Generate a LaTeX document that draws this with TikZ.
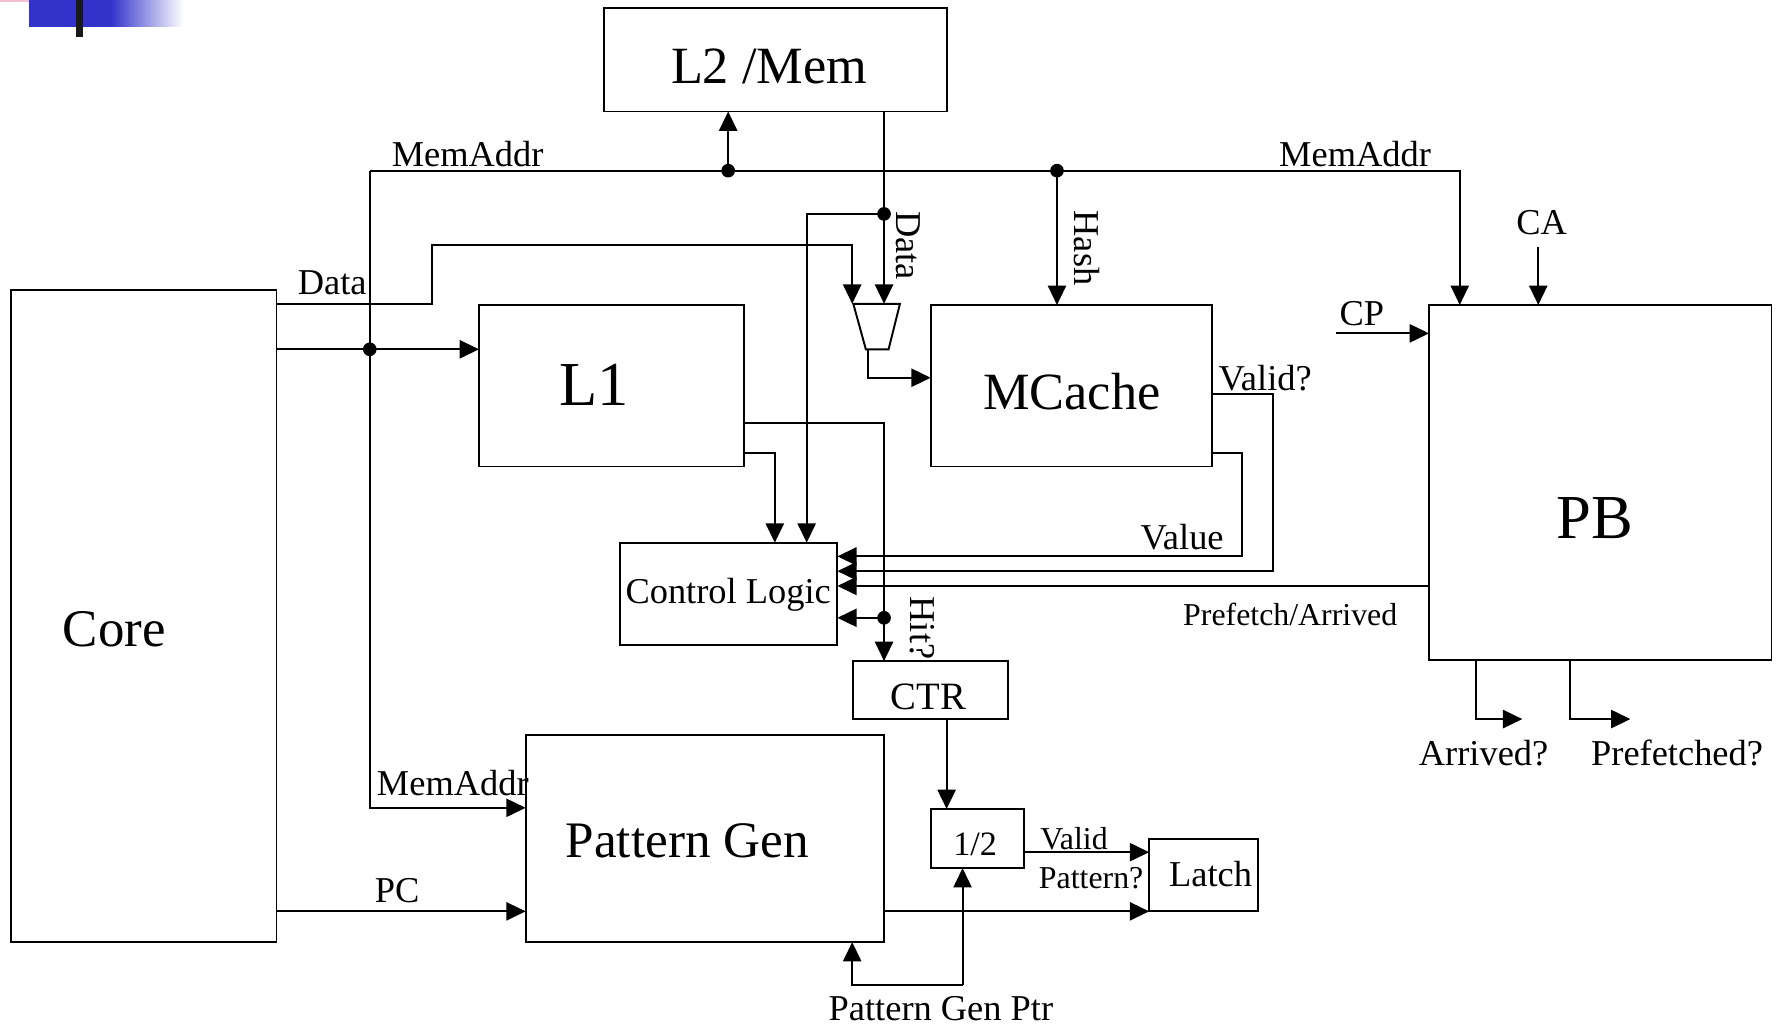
\documentclass[tikz,border=0pt]{standalone}
\usepackage{fontspec}
\setmainfont{Liberation Serif}
\usetikzlibrary{arrows.meta}
\newcommand\fsz[1]{\fontsize{#1}{#1}\selectfont}
\definecolor{logoblue}{RGB}{51,51,204}
\definecolor{logopink}{RGB}{244,190,210}
\begin{document}
\begin{tikzpicture}[x=1pt,y=-1pt,
  box/.style={draw,line width=1.7pt,inner sep=0pt,outer sep=0pt,rectangle},
  wire/.style={line width=1.7pt},
  arr/.style={wire,-{Triangle[length=17pt,width=16pt]}},
  lbl/.style={inner sep=0pt,anchor=base,font=\fsz{32}},
  sml/.style={inner sep=0pt,anchor=base,font=\fsz{28}},
  big/.style={inner sep=0pt,anchor=base,font=\fsz{46}},
  dot/.style={circle,fill,inner sep=0pt,minimum size=12pt}]
\useasboundingbox (0,0) rectangle (1568,903);
% logo
\fill[logopink] (0,0) rectangle (53,1.5);
\fill[logoblue] (25.5,0) rectangle (97.5,23.7);
\shade[left color=logoblue,right color=white] (97,0) rectangle (161,23.7);
\fill[black!90] (66.8,0) rectangle (73,32.5);
% boxes
\node[box,minimum width=301pt,minimum height=91pt] (L2) at (681.5,52.5) {};
\node[box,minimum width=233pt,minimum height=573pt] (Core) at (126.5,541.5) {};
\node[box,minimum width=233pt,minimum height=142pt] (L1) at (537.5,339) {};
\node[box,minimum width=247pt,minimum height=142pt] (MC) at (941.5,339) {};
\node[box,minimum width=301pt,minimum height=312pt] (PB) at (1406.5,424) {};
\node[box,minimum width=191pt,minimum height=90pt] (CL) at (640.5,522) {};
\node[box,minimum width=136pt,minimum height=51pt] (CTR) at (818,606.5) {};
\node[box,minimum width=315pt,minimum height=182pt] (PG) at (619.5,737) {};
\node[box,minimum width=82pt,minimum height=52pt] (HF) at (859,737) {};
\node[box,minimum width=96pt,minimum height=64pt] (LT) at (1058,769) {};
% box texts
\node[big] (tL2) at (676,73) {L2 /Mem};
\node[big,font=\fsz{46.5}] (tCore) at (100.5,568) {Core};
\node[big,font=\fsz{55}] (tL1) at (522,356) {L1};
\node[big] (tMC) at (942,360) {MCache};
\node[big,font=\fsz{55}] (tPB) at (1402,473) {PB};
\node[big,font=\fsz{45}] (tPG) at (604,754) {Pattern Gen};
\node[lbl] (tCL) at (640,530) {Control Logic};
\node[lbl,font=\fsz{34}] (tCTR) at (816,624) {CTR};
\node[lbl,font=\fsz{30}] (tHF) at (857,752) {1/2};
\node[lbl] (tLT) at (1064,779) {Latch};
% mux
\coordinate (muxTL) at (750,267);
\coordinate (muxTR) at (791,267);
\coordinate (muxBR) at (781,307);
\coordinate (muxBL) at (761,307);
\draw[wire,line join=miter] (muxTL) -- (muxTR) -- (muxBR) -- (muxBL) -- cycle;
\coordinate (muxInL) at (749,267);
\coordinate (muxInR) at (777,267);
\coordinate (muxOut) at (763,307);
% junctions
\coordinate (busL) at (325,150);
\coordinate (busR) at (1283,150);
\coordinate (jL2) at (640,150);
\coordinate (jHash) at (929,150);
\coordinate (jCore) at (325,307);
\coordinate (jData) at (777,188);
\coordinate (jHit) at (777,543);
\coordinate (jPtr) at (846,866);
% MemAddr bus
\draw[arr] (busL) -- (busR) -- (PB.north -| busR);
\draw[arr] (busL) -- (325,710) -- (PG.west |- 0,710);
\draw[arr] (jL2) -- (L2.south -| jL2);
\draw[arr] (jHash) -- (MC.north -| jHash);
% data from L2
\draw[arr] (L2.south -| jData) -- (muxInR);
\draw[arr] (jData) -- (709,188) -- (CL.north -| 709,0);
% core outputs
\draw[arr] (Core.east |- 0,267) -- (380,267) -- (380,215) -- (749,215) -- (muxInL);
\draw[arr] (Core.east |- jCore) -- (L1.west |- jCore);
\draw[arr] (muxOut) -- (763,332) -- (MC.west |- 0,332);
% L1 outputs
\draw[arr] (L1.east |- 0,372) -- (777,372) -- (CTR.north -| jHit);
\draw[arr] (jHit) -- (CL.east |- jHit);
\draw[arr] (L1.east |- 0,398) -- (681,398) -- (CL.north -| 681,0);
% MCache outputs
\draw[arr] (MC.east |- 0,398) -- (1092,398) -- (1092,489) -- (CL.east |- 0,489);
\draw[arr] (MC.east |- 0,346) -- (1119,346) -- (1119,502) -- (CL.east |- 0,502);
% PB
\draw[arr] (PB.west |- 0,515) -- (CL.east |- 0,515);
\coordinate (caS) at (1352,217);
\draw[arr] (caS) -- (PB.north -| caS);
\coordinate (cpS) at (1174,293);
\draw[arr] (cpS) -- (PB.west |- cpS);
\draw[arr] (PB.south -| 1297,0) -- (1297,632) -- (1338,632);
\draw[arr] (PB.south -| 1380,0) -- (1380,632) -- (1433,632);
% lower part
\draw[arr] (CTR.south -| 832,0) -- (HF.north -| 832,0);
\draw[arr] (HF.east |- 0,749) -- (LT.west |- 0,749);
\draw[arr] (PG.east |- 0,801) -- (LT.west |- 0,801);
\draw[arr] (jPtr) -- (HF.south -| jPtr);
\draw[arr] (jPtr) -- (749,866) -- (PG.south -| 749,0);
\draw[arr] (Core.east |- 0,801) -- (PG.west |- 0,801);
% dots
\foreach \p in {jL2,jHash,jCore,jData,jHit}
  \node[dot] at (\p) {};
% labels
\node[lbl] (lMA1) at (411,146) {MemAddr};
\node[lbl] (lMA2) at (1191,146) {MemAddr};
\node[lbl] (lMA3) at (398,699) {MemAddr};
\node[lbl] (lData) at (292,259) {Data};
\node[lbl,rotate=-90] (lData2) at (788,216) {Data};
\node[lbl,rotate=-90] (lHash) at (944,218) {Hash};
\node[lbl,rotate=-90] (lHit) at (800,552) {Hit?};
\node[lbl] (lPC) at (349,793) {PC};
\node[lbl] (lCA) at (1355,206) {CA};
\node[lbl] (lCP) at (1197,286) {CP};
\node[lbl] (lValidQ) at (1112,343) {Valid?};
\node[lbl] (lValue) at (1039,483) {Value};
\node[sml] (lPA) at (1134,550) {Prefetch/Arrived};
\node[lbl] (lArr) at (1304,673) {Arrived?};
\node[lbl] (lPre) at (1474,673) {Prefetched?};
\node[sml] (lValid) at (944,747) {Valid};
\node[sml] (lPat) at (959,781) {Pattern?};
\node[lbl] (lPtr) at (827,897) {Pattern Gen Ptr};
\end{tikzpicture}
\end{document}
